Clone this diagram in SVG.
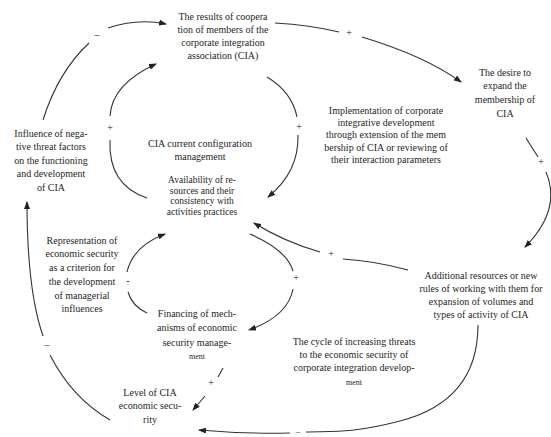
<svg xmlns="http://www.w3.org/2000/svg" width="551" height="437" viewBox="0 0 551 437">
<style>
text{font-family:"Liberation Serif","Times New Roman",serif;font-size:10px;fill:#1e1e1e;text-anchor:middle}
.sm{font-size:8px}
.av{font-size:9.5px}
.sign{font-size:10px}
.c{fill:none;stroke:#333;stroke-width:1.1}
.a{marker-end:url(#arr)}
</style>
<defs>
<marker id="arr" markerUnits="userSpaceOnUse" markerWidth="8" markerHeight="6" refX="7" refY="3" orient="auto">
<path d="M0,0 L8,3 L0,6 z" fill="#222"/>
</marker>
</defs>
<rect width="551" height="437" fill="#fff"/>
<g id="connectors">
<path class="c" d="M43,120 Q58,72 89,43"/>
<path class="c a" d="M108,28 Q138,18 166,24"/>
<path class="c" d="M147,198 Q108,185 110,140"/>
<path class="c a" d="M110,116 Q112,84 156,64"/>
<path class="c" d="M267,77 Q292,92 297,117"/>
<path class="c a" d="M298,135 Q299,172 268,197"/>
<path class="c" d="M275,23 Q310,25 339,32"/>
<path class="c a" d="M362,37 Q425,56 461,82"/>
<path class="c" d="M526,138 L538,157"/>
<path class="c a" d="M546,172 Q562,210 525,247"/>
<path class="c" d="M408,270 Q375,261 343,259"/>
<path class="c a" d="M320,252 Q285,242 254,223"/>
<path class="c" d="M250,234 Q287,250 293,271"/>
<path class="c a" d="M293,289 Q288,316 249,330"/>
<path class="c a" d="M127,272 Q133,246 165,234"/>
<path class="c" d="M128,292 Q132,306 147,313"/>
<path class="c" d="M223,368 L218,377"/>
<path class="c a" d="M205,396 L193,410"/>
<path class="c a" d="M43,336 Q27,290 27,202"/>
<path class="c" d="M50,355 Q72,398 110,420"/>
<path class="c" d="M478,325 C478,378 450,408 400,421 S330,431 306,432"/>
<path class="c a" d="M290,433 Q245,434 199,430"/>
<text class="sign" x="349" y="36">+</text>
<text class="sign" x="541" y="165">+</text>
<text class="sign" x="299" y="130">+</text>
<text class="sign" x="110" y="131">+</text>
<text class="sign" x="331" y="257">+</text>
<text class="sign" x="296" y="281">+</text>
<text class="sign" x="211" y="386">+</text>
<text class="sign" x="97" y="38">–</text>
<text class="sign" x="128" y="284">-</text>
<text class="sign" x="47" y="348">–</text>
<text class="sign" x="298" y="434" style="font-size:9px">–</text>
</g>
<g id="results">
<text x="223" y="20">The results of coopera</text>
<text x="223" y="33">tion of members of the</text>
<text x="223" y="46">corporate integration</text>
<text x="223" y="59">association (CIA)</text>
</g>
<g id="desire">
<text x="505" y="76">The desire to</text>
<text x="505" y="89">expand the</text>
<text x="505" y="103">membership of</text>
<text x="505" y="117">CIA</text>
</g>
<g id="implementation">
<text x="386" y="114">Implementation of corporate</text>
<text x="386" y="126">integrative development</text>
<text x="386" y="138">through extension of the mem</text>
<text x="386" y="151">bership of CIA or reviewing of</text>
<text x="386" y="163">their interaction parameters</text>
</g>
<g id="configuration">
<text x="200" y="147">CIA current configuration</text>
<text x="200" y="160">management</text>
</g>
<g id="availability">
<text class="av" x="202" y="183">Availability of re-</text>
<text class="av" x="202" y="193.5">sources and their</text>
<text class="av" x="202" y="204">consistency with</text>
<text class="av" x="202" y="214.5">activities practices</text>
</g>
<g id="influence">
<text x="51" y="137">Influence of nega-</text>
<text x="51" y="150">tive threat factors</text>
<text x="51" y="164">on the functioning</text>
<text x="51" y="177">and development</text>
<text x="51" y="191">of CIA</text>
</g>
<g id="representation">
<text x="82" y="244">Representation of</text>
<text x="82" y="257">economic security</text>
<text x="82" y="271">as a criterion for</text>
<text x="82" y="285">the development</text>
<text x="82" y="299">of managerial</text>
<text x="82" y="312">influences</text>
</g>
<g id="financing">
<text x="197" y="317">Financing of mech-</text>
<text x="197" y="331">anisms of economic</text>
<text x="197" y="346">security manage-</text>
<text class="sm" x="197" y="359">ment</text>
</g>
<g id="level">
<text x="150" y="396">Level of CIA</text>
<text x="150" y="409">economic secu-</text>
<text x="150" y="423">rity</text>
</g>
<g id="additional">
<text x="481" y="279">Additional resources or new</text>
<text x="481" y="292">rules of working with them for</text>
<text x="481" y="305">expansion of volumes and</text>
<text x="481" y="318">types of activity of CIA</text>
</g>
<g id="cycle">
<text x="354" y="345">The cycle of increasing threats</text>
<text x="354" y="358">to the economic security of</text>
<text x="354" y="371">corporate integration develop-</text>
<text class="sm" x="354" y="385">ment</text>
</g>
</svg>
